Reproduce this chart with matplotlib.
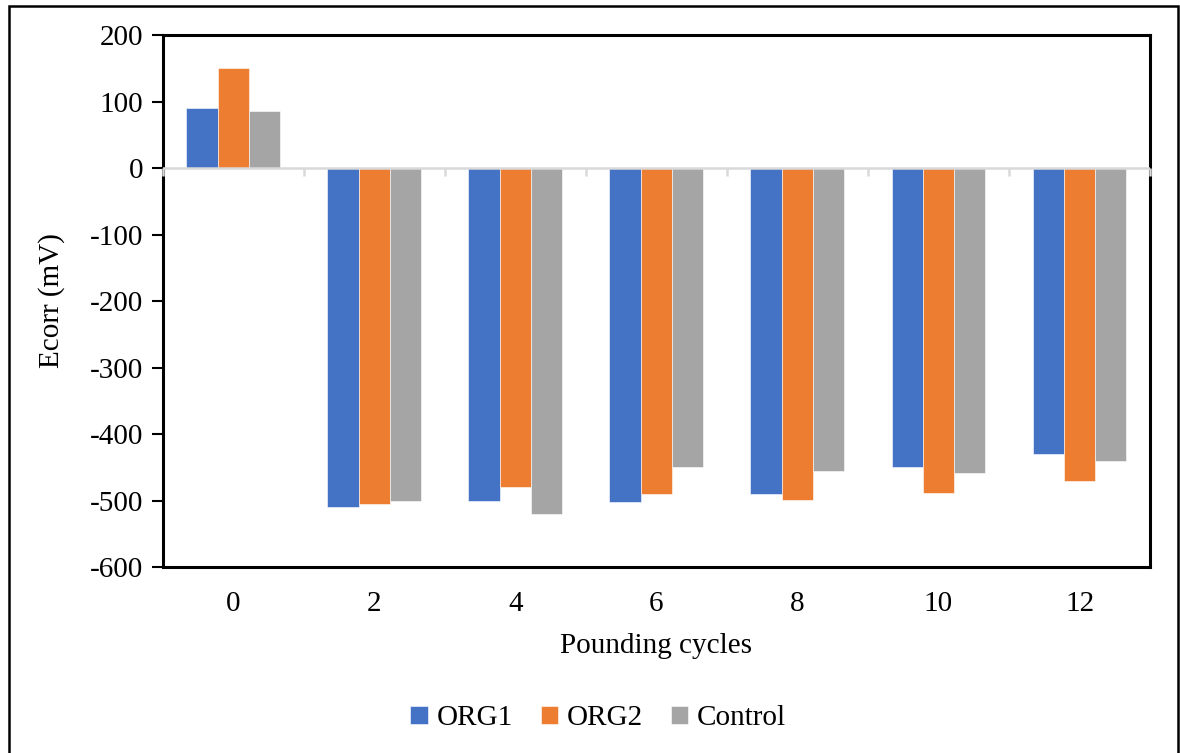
import numpy as np
import matplotlib
matplotlib.use("Agg")
import matplotlib.pyplot as plt
from matplotlib.patches import Rectangle

plt.rcParams['font.family'] = ['Liberation Serif', 'DejaVu Serif']
plt.rcParams['axes.unicode_minus'] = False

cycles = ['0', '2', '4', '6', '8', '10', '12']
org1 = [90, -510, -500, -502, -490, -450, -430]
org2 = [150, -505, -480, -490, -499, -489, -470]
control = [85, -500, -520, -450, -455, -459, -440]

series = [('ORG1', org1, '#4472C4'),
          ('ORG2', org2, '#ED7D31'),
          ('Control', control, '#A5A5A5')]

fig = plt.figure(figsize=(11.8, 7.53), dpi=100)
ax = fig.add_axes([0.138, 0.247, 0.8366, 0.7065])

x = np.arange(len(cycles))
w = 0.222
for k, (name, vals, col) in enumerate(series):
    ax.bar(x + (k - 1) * w, vals, w, color=col, label=name,
           edgecolor='white', linewidth=0.4, zorder=2)

# zero line with category boundary ticks
ax.axhline(0, color='#d9d9d9', lw=1.8, zorder=3)
ax.vlines(np.arange(len(cycles) + 1) - 0.5, -12, 0, color='#d9d9d9', lw=1.8,
          zorder=3, clip_on=False)

ax.set_xlim(-0.5, len(cycles) - 0.5)
ax.set_ylim(-600, 200)
ax.set_yticks(range(-600, 201, 100))
ax.set_xticks(x)
ax.set_xticklabels(cycles)
ax.tick_params(axis='y', length=8, width=1.5, labelsize=21, pad=6)
ax.tick_params(axis='x', length=0, labelsize=21, pad=17)

for s in ax.spines.values():
    s.set_linewidth(2.2)
    s.set_color('black')

ax.set_xlabel('Pounding cycles', fontsize=21, labelpad=12)
ax.set_ylabel('Ecorr (mV)', fontsize=21, labelpad=18)

leg = ax.legend(loc='center', bbox_to_anchor=(0.441, -0.284), ncol=3, frameon=False,
                prop={'family': 'Liberation Serif', 'size': 21},
                handlelength=0.6, handleheight=0.6, handletextpad=0.3,
                columnspacing=0.95)

# outer border
fig.patches.append(Rectangle((0.0076, -0.02), 0.9907, 1.012, transform=fig.transFigure,
                             fill=False, edgecolor='black', lw=1.8))

fig.savefig('out.png', dpi=100)
